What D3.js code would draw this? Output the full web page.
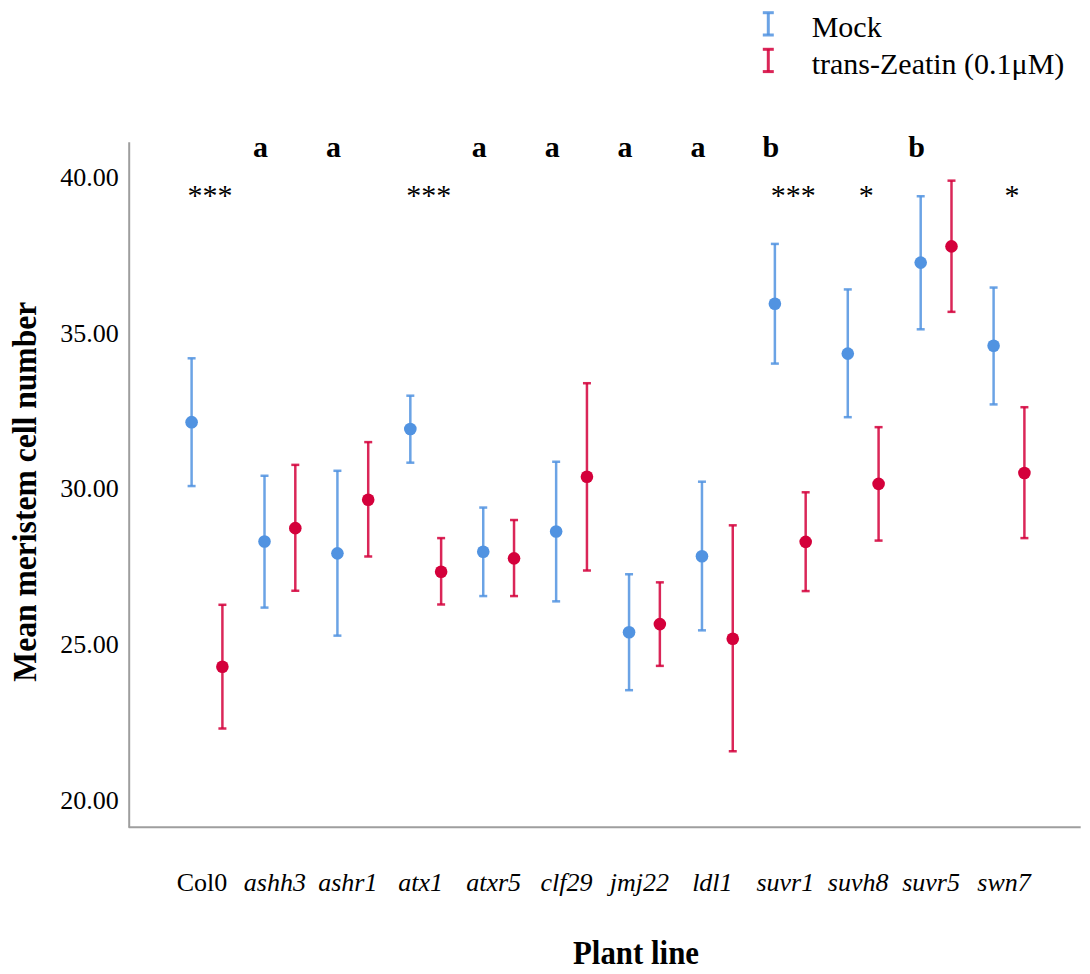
<!DOCTYPE html>
<html>
<head>
<meta charset="utf-8">
<script src="https://cdn.jsdelivr.net/npm/d3@7"></script>
<style>
  body { margin: 0; background: #fff; }
  text { font-family: "Liberation Serif", "Times New Roman", serif; fill: #000; }
</style>
</head>
<body>
<div id="chart"></div>
<script>
// plant lines on the x axis
const lines = ["Col0", "ashh3", "ashr1", "atx1", "atxr5", "clf29", "jmj22", "ldl1", "suvr1", "suvh8", "suvr5", "swn7"];
const series = ["Mock", "trans-Zeatin (0.1\u03bcM)"];

// mean and error bar ends
const mockMean = [32.12, 28.29, 27.91, 31.90, 27.96, 28.61, 25.38, 27.82, 35.92, 34.32, 37.24, 34.57];
const mockHigh = [34.17, 30.40, 30.56, 32.97, 29.38, 30.85, 27.24, 30.21, 37.84, 36.38, 39.37, 36.44];
const mockLow  = [30.07, 26.17, 25.27, 30.82, 26.54, 26.37, 23.52, 25.44, 34.00, 32.28, 35.10, 32.69];
const zeaMean  = [24.27, 28.72, 29.63, 27.32, 27.75, 30.37, 25.64, 25.17, 28.28, 30.14, 37.76, 30.49];
const zeaHigh  = [26.26, 30.75, 31.48, 28.40, 28.98, 33.37, 26.98, 28.81, 29.87, 31.96, 39.87, 32.60];
const zeaLow   = [22.29, 26.71, 27.81, 26.27, 26.54, 27.36, 24.30, 21.56, 26.70, 28.32, 35.66, 28.40];

const yTicks = [20, 25, 30, 35, 40];

// significance marks
const letterLines = ["ashh3", "ashr1", "atxr5", "clf29", "jmj22", "ldl1", "suvr1", "suvr5"];
const letterText  = ["a", "a", "a", "a", "a", "a", "b", "b"];
const starLines = ["Col0", "atx1", "suvr1", "suvh8", "swn7"];
const starText  = ["***", "***", "***", "*", "*"];

const colors = ["#5193e1", "#d4003b"];

const width = 1090, height = 974;
const svg = d3.select("#chart").append("svg")
    .attr("width", width)
    .attr("height", height);

const x = d3.scalePoint().domain(lines).range([207, 1009]);
const offset = d3.scalePoint().domain(series).range([-15.4, 15.4]);
const y = d3.scaleLinear().domain([19.12, 41.12]).range([827.3, 141.7]);

// axes lines (grey frame left + bottom)
const yAxis = d3.axisLeft(y).tickValues(yTicks).tickSize(0).tickPadding(10)
    .tickFormat(d3.format(".2f"));
const gy = svg.append("g").attr("transform", "translate(128.7,0)").call(yAxis);
gy.select(".domain").attr("stroke", "#9e9e9e").attr("stroke-width", 2);
gy.selectAll(".tick text")
    .attr("font-size", 26)
    .attr("font-family", "Liberation Serif")
    .attr("fill", "#000")
    .attr("dy", "0.33em");

svg.append("line")
    .attr("x1", 128.7).attr("x2", 1080.7)
    .attr("y1", y(19.12)).attr("y2", y(19.12))
    .attr("stroke", "#9e9e9e").attr("stroke-width", 2);

// x tick labels
svg.append("g").selectAll("text")
    .data(lines)
    .join("text")
    .attr("x", (d) => x(d) - 5)
    .attr("y", 891)
    .attr("text-anchor", "middle")
    .attr("font-size", 26)
    .attr("font-style", (d) => (d === "Col0" ? "normal" : "italic"))
    .text((d) => d);

// axis titles
svg.append("text")
    .attr("transform", "translate(36,491.7) rotate(-90)")
    .attr("text-anchor", "middle")
    .attr("font-size", 33)
    .attr("font-weight", "bold")
    .attr("textLength", 380)
    .attr("lengthAdjust", "spacingAndGlyphs")
    .text("Mean meristem cell number");

svg.append("text")
    .attr("x", 636)
    .attr("y", 964)
    .attr("text-anchor", "middle")
    .attr("font-size", 33)
    .attr("font-weight", "bold")
    .attr("textLength", 126)
    .attr("lengthAdjust", "spacingAndGlyphs")
    .text("Plant line");

// error bars + means
const points = [];
lines.forEach((l, i) => {
    points.push({ line: l, s: series[0], c: colors[0], m: mockMean[i], hi: mockHigh[i], lo: mockLow[i] });
    points.push({ line: l, s: series[1], c: colors[1], m: zeaMean[i], hi: zeaHigh[i], lo: zeaLow[i] });
});
const px = (d) => x(d.line) + offset(d.s);

const g = svg.append("g");
const bars = g.selectAll("g.bar").data(points).join("g").attr("class", "bar");
bars.append("line")
    .attr("x1", px).attr("x2", px)
    .attr("y1", (d) => y(d.hi)).attr("y2", (d) => y(d.lo))
    .attr("stroke", (d) => d.c).attr("stroke-width", 2.5).attr("stroke-opacity", 0.85);
bars.append("line")
    .attr("x1", (d) => px(d) - 4).attr("x2", (d) => px(d) + 4)
    .attr("y1", (d) => y(d.hi)).attr("y2", (d) => y(d.hi))
    .attr("stroke", (d) => d.c).attr("stroke-width", 2.5).attr("stroke-opacity", 0.85);
bars.append("line")
    .attr("x1", (d) => px(d) - 4).attr("x2", (d) => px(d) + 4)
    .attr("y1", (d) => y(d.lo)).attr("y2", (d) => y(d.lo))
    .attr("stroke", (d) => d.c).attr("stroke-width", 2.5).attr("stroke-opacity", 0.85);
bars.append("circle")
    .attr("cx", px).attr("cy", (d) => y(d.m))
    .attr("r", 6.3)
    .attr("fill", (d) => d.c);

// significance letters and stars
svg.append("g").selectAll("text")
    .data(letterLines)
    .join("text")
    .attr("x", (d) => x(d) + offset(series[0]) - 4)
    .attr("y", 157)
    .attr("text-anchor", "middle")
    .attr("font-size", 30)
    .attr("font-weight", "bold")
    .text((d, i) => letterText[i]);

svg.append("g").selectAll("text")
    .data(starLines)
    .join("text")
    .attr("x", (d) => x(d) + 3)
    .attr("y", 205)
    .attr("text-anchor", "middle")
    .attr("font-size", 30)
    .text((d, i) => starText[i]);

// legend
const legend = svg.append("g").selectAll("g")
    .data(series)
    .join("g")
    .attr("transform", (d, i) => `translate(768.3,${12.7 + i * 36.6})`);
legend.append("line")
    .attr("x1", 0).attr("x2", 0).attr("y1", 0).attr("y2", 22.3)
    .attr("stroke", (d, i) => colors[i]).attr("stroke-width", 3).attr("stroke-opacity", 0.85);
legend.append("line")
    .attr("x1", -5.5).attr("x2", 5.5).attr("y1", 0).attr("y2", 0)
    .attr("stroke", (d, i) => colors[i]).attr("stroke-width", 3).attr("stroke-opacity", 0.85);
legend.append("line")
    .attr("x1", -5.5).attr("x2", 5.5).attr("y1", 22.3).attr("y2", 22.3)
    .attr("stroke", (d, i) => colors[i]).attr("stroke-width", 3).attr("stroke-opacity", 0.85);
legend.append("text")
    .attr("x", 43.4)
    .attr("y", 24.6)
    .attr("font-size", 30)
    .text((d) => d);
</script>
</body>
</html>
